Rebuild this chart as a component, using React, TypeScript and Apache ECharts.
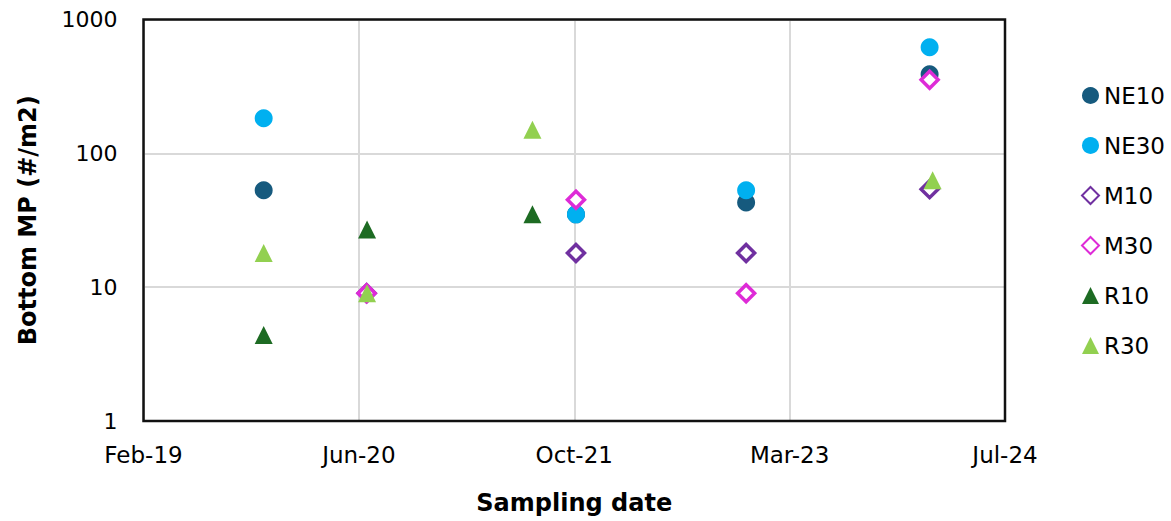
import React, { useEffect, useRef } from "react";
import * as echarts from "echarts";

// Sampling dates (ISO) and bottom microplastic densities (#/m2) per station
const ne10Dates = ["2019-11-10", "2021-11-04", "2022-12-04", "2024-02-03"];
const ne10Values = [53, 35, 43, 390];

const ne30Dates = ["2019-11-10", "2021-11-04", "2022-12-04", "2024-02-03"];
const ne30Values = [183, 35, 53, 620];

const m10Dates = ["2020-07-06", "2021-11-04", "2022-12-04", "2024-02-03"];
const m10Values = [9, 18, 18, 54];

const m30Dates = ["2020-07-06", "2021-11-04", "2022-12-04", "2024-02-03"];
const m30Values = [9, 45, 9, 355];

const r10Dates = ["2019-11-10", "2020-07-07", "2021-07-26"];
const r10Values = [4.4, 27, 35];

const r30Dates = ["2019-11-10", "2020-07-07", "2021-07-26", "2024-02-10"];
const r30Values = [18, 9, 150, 63];

// X axis runs on spreadsheet-style day serials: 43500 (Feb-19) .. 45500 (Jul-24), every 500 days
const X_MIN = 43500;
const X_MAX = 45500;
const X_STEP = 500;

const MONTHS = ["Jan", "Feb", "Mar", "Apr", "May", "Jun", "Jul", "Aug", "Sep", "Oct", "Nov", "Dec"];
const SERIAL_EPOCH = Date.UTC(1899, 11, 30);
const DAY_MS = 86400000;

const toSerial = (iso: string) => {
  const [y, m, d] = iso.split("-").map(Number);
  return (Date.UTC(y, m - 1, d) - SERIAL_EPOCH) / DAY_MS;
};

const serialLabel = (v: number) => {
  const dt = new Date(SERIAL_EPOCH + v * DAY_MS);
  const yy = String(dt.getUTCFullYear() % 100).padStart(2, "0");
  return `${MONTHS[dt.getUTCMonth()]}-${yy}`;
};

const pairs = (dates: string[], values: number[]) => dates.map((d, i) => [toSerial(d), values[i]]);

const FONT = "DejaVu Sans";

// plot-area placement
const GRID = { left: 143.5, top: 19.5, right: 166, bottom: 100 };
const W = 1171;
const H = 521;

export default function App() {
  const ref = useRef<HTMLDivElement>(null);

  useEffect(() => {
    if (!ref.current) return;
    const chart = echarts.init(ref.current, undefined, { renderer: "svg" });

    const filled = (name: string, symbol: string, color: string, dates: string[], values: number[]) => ({
      name,
      type: "scatter",
      symbol,
      symbolSize: 18,
      itemStyle: { color, opacity: 1 },
      data: pairs(dates, values),
    });

    const hollow = (name: string, color: string, dates: string[], values: number[]) => ({
      name,
      type: "scatter",
      symbol: "diamond",
      symbolSize: [17, 17],
      itemStyle: { color: "#ffffff", borderColor: color, borderWidth: 3.5, opacity: 1 },
      data: pairs(dates, values),
    });

    chart.setOption({
      animation: false,
      backgroundColor: "#ffffff",
      textStyle: { fontFamily: FONT },
      grid: { left: GRID.left, top: GRID.top, right: GRID.right, bottom: GRID.bottom, containLabel: false },
      legend: {
        orient: "vertical",
        left: 1081,
        top: 84,
        padding: 0,
        itemWidth: 17,
        itemHeight: 17,
        itemGap: 27,
        textStyle: { fontSize: 23, color: "#000", fontFamily: FONT },
        data: ["NE10", "NE30", "M10", "M30", "R10", "R30"],
      },
      xAxis: {
        type: "value",
        min: X_MIN,
        max: X_MAX,
        interval: X_STEP,
        name: "Sampling date",
        nameLocation: "middle",
        nameGap: 70,
        nameTextStyle: { fontSize: 24, fontWeight: "bold", color: "#000", fontFamily: FONT },
        axisLine: { show: false },
        axisTick: { show: false },
        axisLabel: { formatter: serialLabel, fontSize: 23, color: "#000", margin: 22, fontFamily: FONT },
        splitLine: { show: true, lineStyle: { color: "#d9d9d9", width: 2 } },
      },
      yAxis: {
        type: "log",
        logBase: 10,
        min: 1,
        max: 1000,
        name: "Bottom MP (#/m2)",
        nameLocation: "middle",
        nameGap: 104,
        nameTextStyle: { fontSize: 24, fontWeight: "bold", color: "#000", fontFamily: FONT },
        axisLine: { show: false },
        axisTick: { show: false },
        axisLabel: { formatter: (v: number) => String(v), fontSize: 22, color: "#000", margin: 26, fontFamily: FONT },
        splitLine: { show: true, lineStyle: { color: "#d9d9d9", width: 2 } },
      },
      graphic: [
        {
          type: "rect",
          z: 100,
          silent: true,
          shape: {
            x: GRID.left,
            y: GRID.top,
            width: W - GRID.left - GRID.right,
            height: H - GRID.top - GRID.bottom,
          },
          style: { fill: "none", stroke: "#111", lineWidth: 2.5 },
        },
      ],
      series: [
        filled("NE10", "circle", "#165a7e", ne10Dates, ne10Values),
        filled("NE30", "circle", "#00b0f0", ne30Dates, ne30Values),
        hollow("M10", "#7030a0", m10Dates, m10Values),
        hollow("M30", "#de2bd7", m30Dates, m30Values),
        filled("R10", "triangle", "#1d6b23", r10Dates, r10Values),
        filled("R30", "triangle", "#92d050", r30Dates, r30Values),
      ],
    });

    return () => chart.dispose();
  }, []);

  return (
    <div
      ref={ref}
      style={{ position: "fixed", left: 0, top: 0, width: W, height: H, background: "#fff" }}
    />
  );
}
